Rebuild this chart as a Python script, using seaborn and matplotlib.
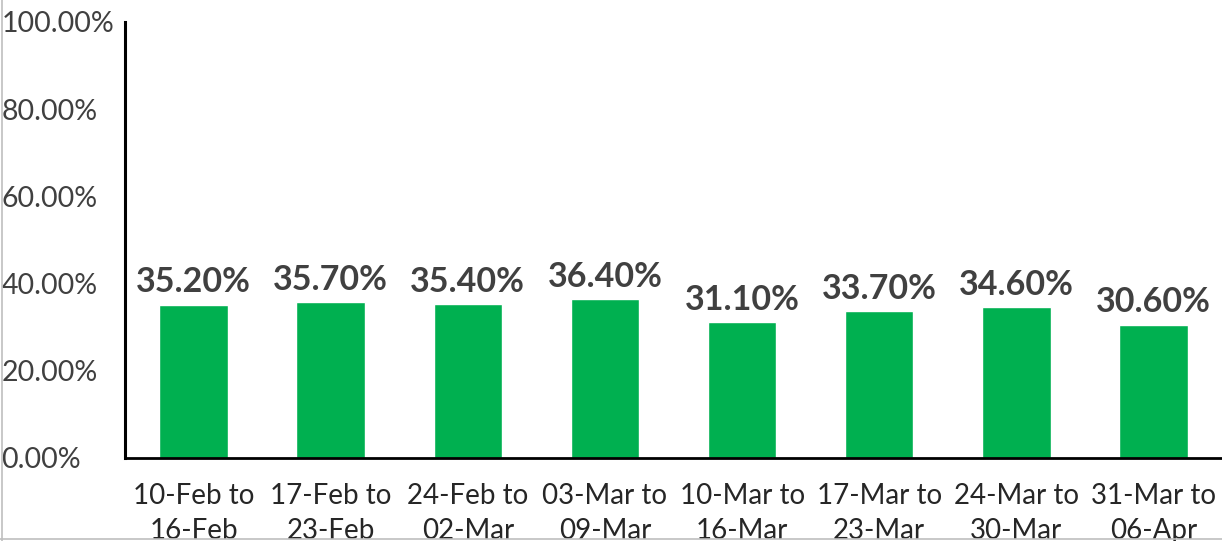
import pandas as pd
import matplotlib.pyplot as plt
import matplotlib.lines as mlines
import seaborn as sns

weeks = [
    "10-Feb to\n16-Feb", "17-Feb to\n23-Feb", "24-Feb to\n02-Mar", "03-Mar to\n09-Mar",
    "10-Mar to\n16-Mar", "17-Mar to\n23-Mar", "24-Mar to\n30-Mar", "31-Mar to\n06-Apr",
]
rates = [0.352, 0.357, 0.354, 0.364, 0.311, 0.337, 0.346, 0.306]
y_ticks = [0.0, 0.2, 0.4, 0.6, 0.8, 1.0]

sns.set_theme(style="white")
plt.rcParams["font.family"] = ["Lato", "DejaVu Sans"]

df = pd.DataFrame({"week": weeks, "rate": rates})

fig = plt.figure(figsize=(12.22, 5.41), dpi=100)
ax = fig.add_axes([125 / 1222, 83 / 541, 1 - 125 / 1222, 436 / 541])

sns.barplot(data=df, x="week", y="rate", color="#00B050", saturation=1,
            width=0.5, ax=ax)

ax.set_ylim(0, 1)
ax.set_xlim(-0.5, len(weeks) - 0.5)
ax.set_yticks(y_ticks)
ax.set_yticklabels([f"{t * 100:.2f}%" for t in y_ticks])
ax.set_xlabel("")
ax.set_ylabel("")

# data labels
for i, v in enumerate(rates):
    ax.text(i, v + 0.014, f"{v * 100:.2f}%", ha="center", va="bottom",
            fontsize=24.5, fontweight="bold", color="#404040")

ax.tick_params(axis="y", length=0, pad=89, labelsize=20.5, labelcolor="#404040")
for lbl in ax.get_yticklabels():
    lbl.set_horizontalalignment("left")
ax.tick_params(axis="x", length=0, pad=18, labelsize=20, labelcolor="#262626")
for lbl in ax.get_xticklabels():
    lbl.set_linespacing(1.45)

for side in ["top", "right"]:
    ax.spines[side].set_visible(False)
ax.spines["left"].set_color("black")
ax.spines["left"].set_linewidth(2.2)
ax.spines["bottom"].set_color("black")
ax.spines["bottom"].set_linewidth(2)

# chart frame remnants
fig.add_artist(mlines.Line2D([1.5 / 1222, 1.5 / 1222], [0, 1], color="#bfbfbf", lw=1.2))
fig.add_artist(mlines.Line2D([0, 1], [2 / 541, 2 / 541], color="#bfbfbf", lw=1.2))

fig.savefig("out.png", dpi=100)
